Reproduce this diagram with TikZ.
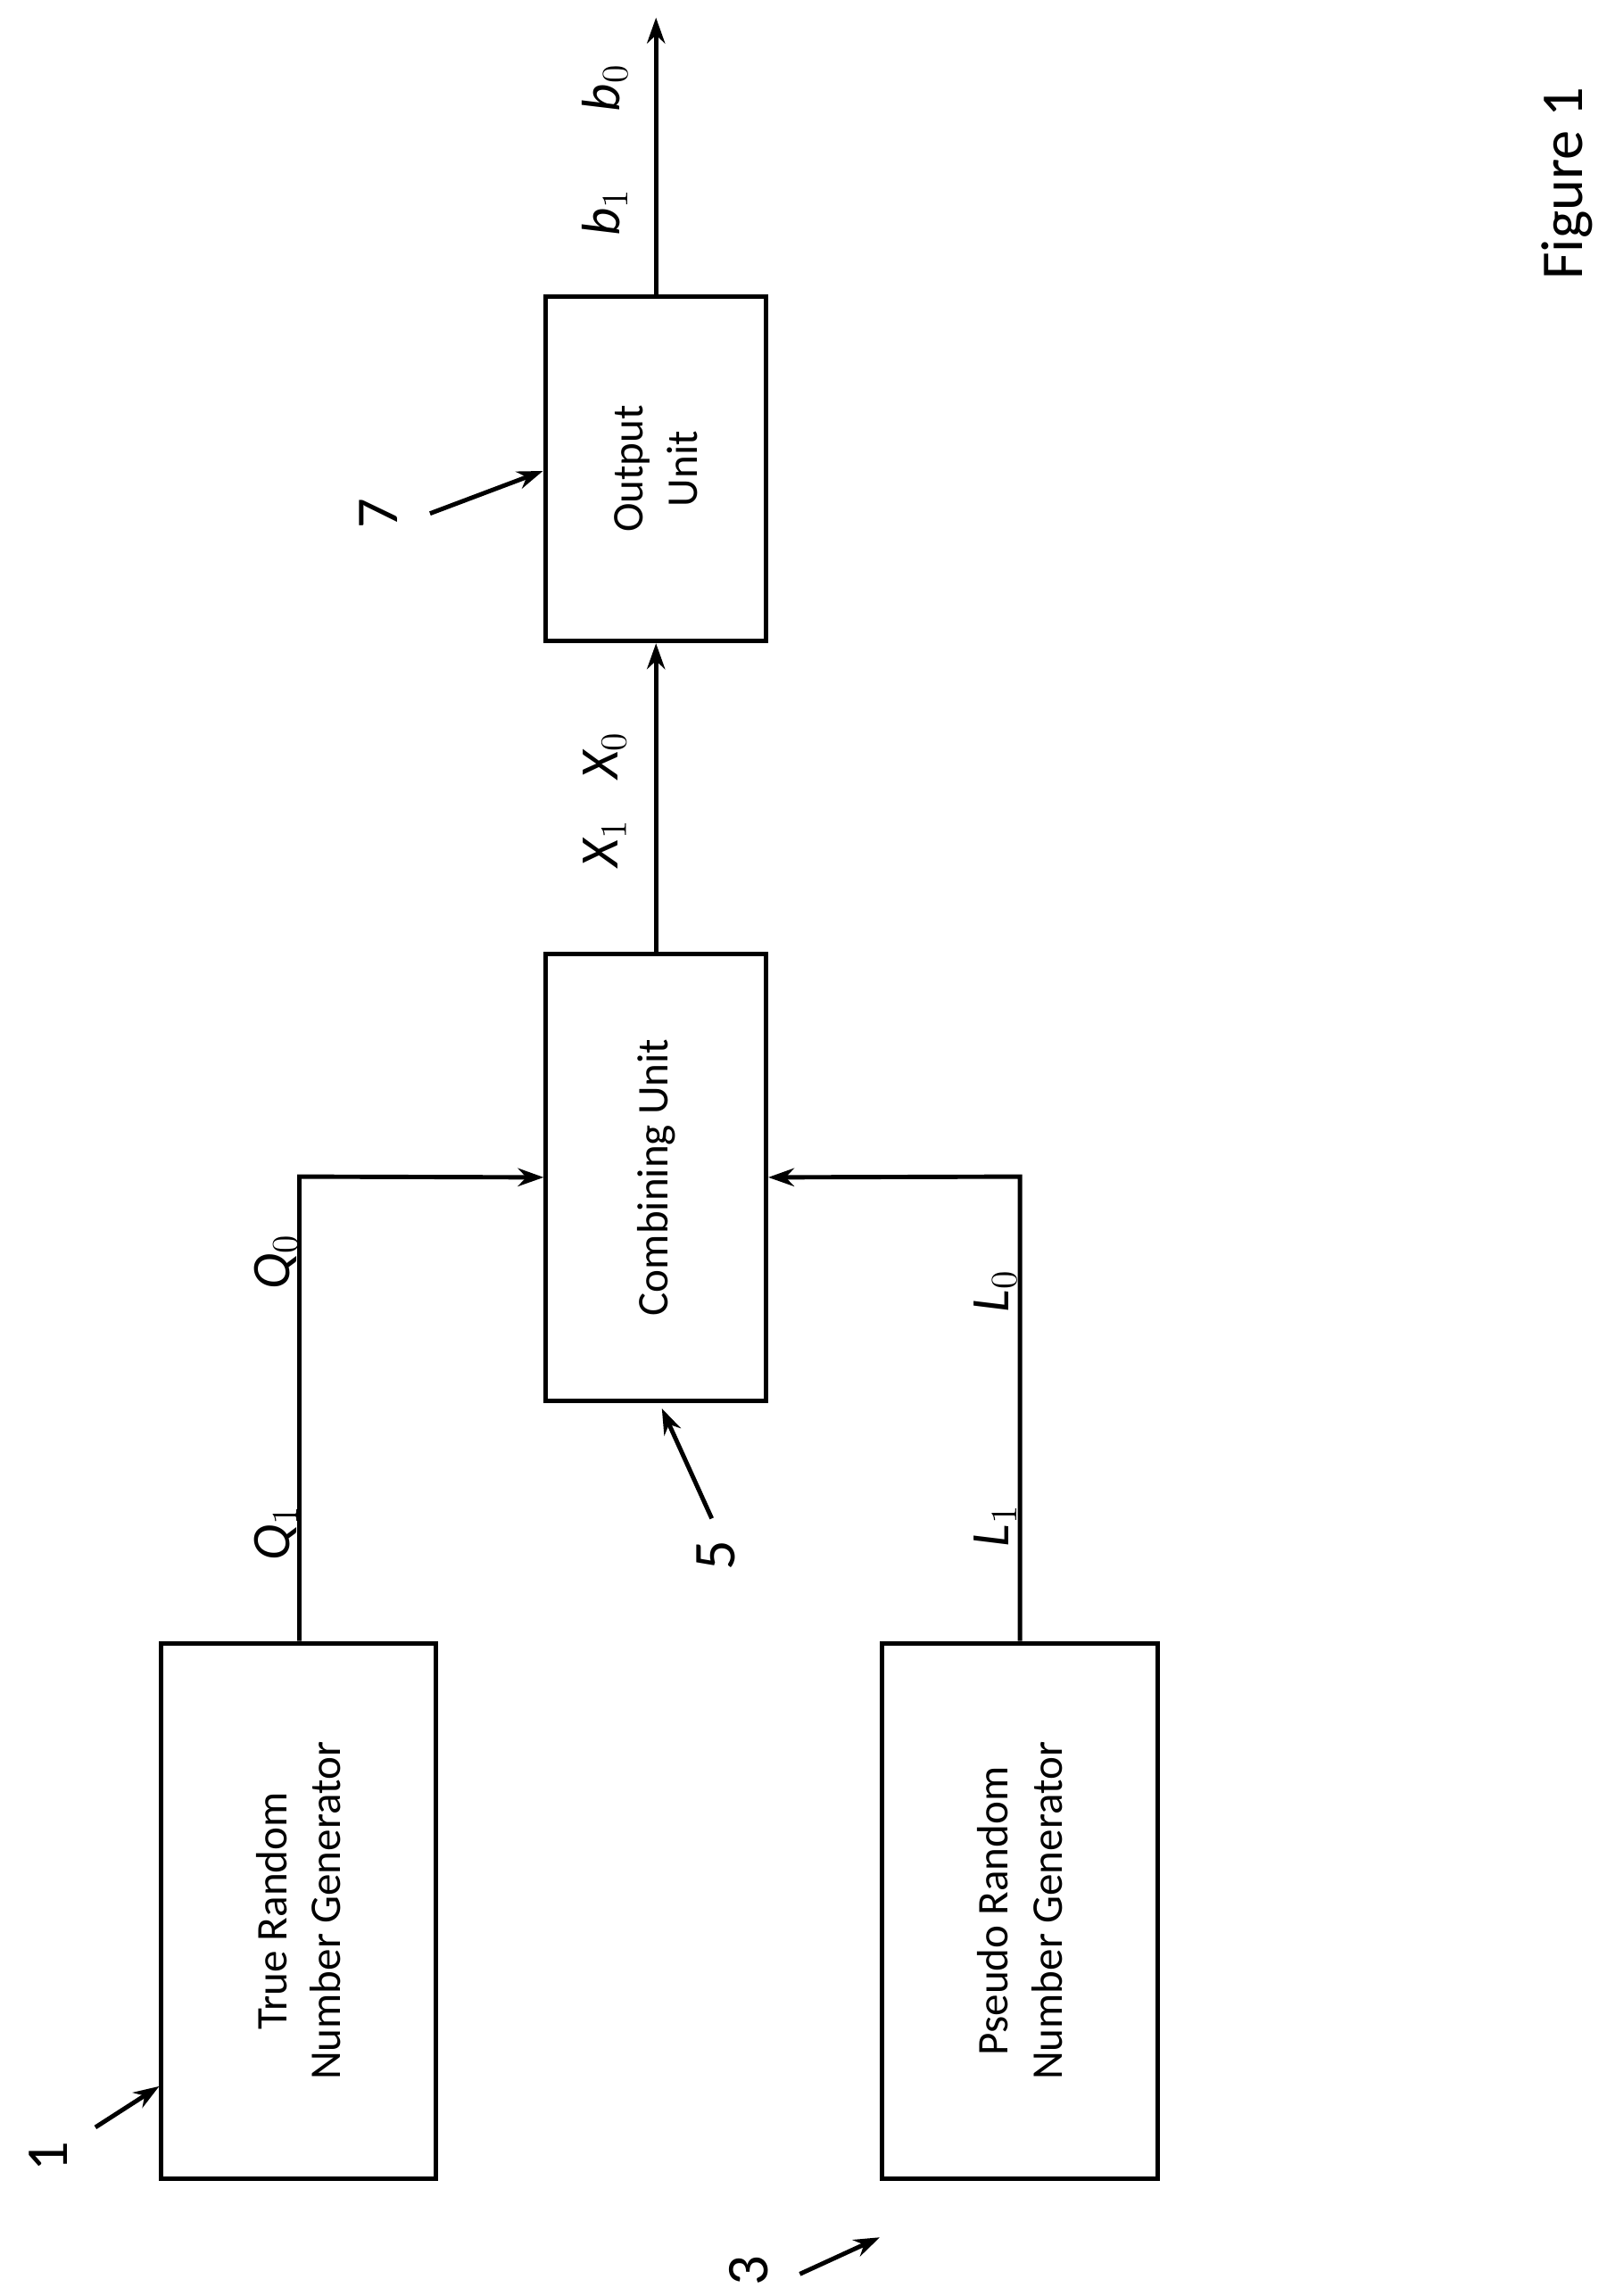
\documentclass[tikz,border=0pt]{standalone}
\usepackage{fontspec}
\setmainfont{Carlito}
\usetikzlibrary{arrows.meta}
\begin{document}
\begin{tikzpicture}[x=0.02cm,y=-0.02cm,
  box/.style={draw,line width=1.7pt,inner sep=0pt},
  wire/.style={line width=1.7pt},
  arr/.style={line width=1.7pt,-{Stealth[length=10pt,width=7pt]}},
  btext/.style={rotate=90,font=\fontsize{17}{21}\selectfont,align=center},
  lab/.style={rotate=90,font=\fontsize{21}{24}\selectfont\itshape},
  num/.style={rotate=90,font=\fontsize{23}{26}\selectfont}]
\useasboundingbox (0,0) rectangle (1100,1565);
\node[box,minimum width=187*0.02cm,minimum height=365*0.02cm] (trng) at (203.5,1302.5) {};
\node[btext] at (trng.center) {True Random\\Number Generator};
\node[box,minimum width=188*0.02cm,minimum height=365*0.02cm] (prng) at (695,1302.5) {};
\node[btext] at (prng.center) {Pseudo Random\\Number Generator};
\node[box,minimum width=150*0.02cm,minimum height=305*0.02cm] (comb) at (447,802.5) {};
\node[btext] at (comb.center) {Combining Unit};
\node[box,minimum width=150*0.02cm,minimum height=235*0.02cm] (out) at (447,319.5) {};
\node[btext] at (out.center) {Output\\Unit};
\coordinate (q) at (204,802);
\coordinate (l) at (695,802);
\coordinate (top) at (447,12);
\draw[arr] (trng.north -| q) -- (q) -- (comb.west);
\draw[arr] (prng.north -| l) -- (l) -- (comb.east);
\draw[arr] (comb.north) -- (out.south);
\draw[arr] (out.north) -- (top);
\node[lab] (q1) at (188,1045) {Q$_1$};
\node[lab] (q0) at (188,860) {Q$_0$};
\node[lab] (l1) at (678,1040) {L$_1$};
\node[lab] (l0) at (678,880) {L$_0$};
\node[lab] (x1) at (412,575) {X$_1$};
\node[lab] (x0) at (412,515) {X$_0$};
\node[lab] (b1) at (412,145) {b$_1$};
\node[lab] (b0) at (412,60) {b$_0$};
\node[num] (f) at (1068,125) {Figure 1};
\node[num] (n1) at (33,1470) {1};
\node[num] (n3) at (510,1548) {3};
\node[num] (n5) at (488,1060) {5};
\node[num] (n7) at (258,350) {7};
\coordinate (a1) at (65,1450); \coordinate (a3) at (545,1550);
\coordinate (a5) at (485,1035); \coordinate (a7) at (293,350);
\draw[arr] (a1) -- (trng.south west |- 0,1422);
\draw[arr] (a3) -- (prng.west |- 0,1525);
\draw[arr] (a5) -- (451,960);
\draw[arr] (a7) -- (370,321);
\end{tikzpicture}
\end{document}
